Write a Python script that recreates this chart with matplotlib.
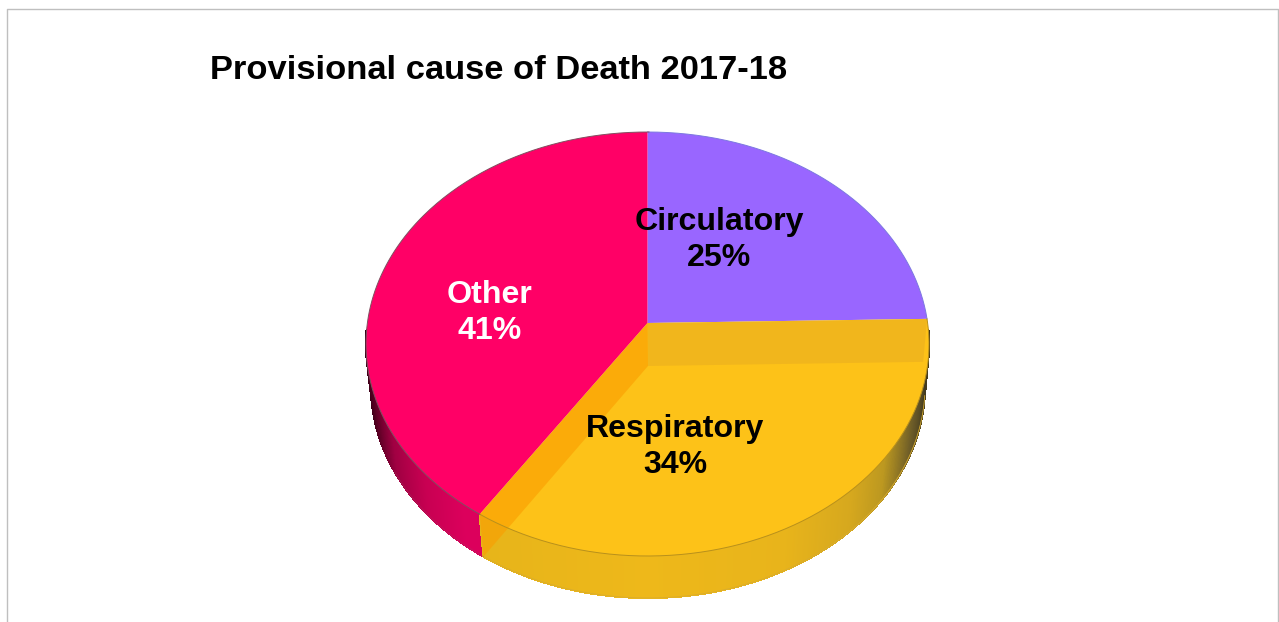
import numpy as np
import matplotlib
matplotlib.use("Agg")
import matplotlib.pyplot as plt
import matplotlib.transforms as mtransforms
from matplotlib.collections import PolyCollection
from matplotlib.patches import Polygon
from matplotlib.path import Path

plt.rcParams["font.family"] = "Liberation Sans"

title = "Provisional cause of Death 2017-18"
categories = ["Circulatory", "Respiratory", "Other"]
values = [24.6, 34.45, 40.6]

color_circ = '#9966FF'
color_resp = '#FDC218'
color_other = '#FF0066'


class Perspective(mtransforms.Transform):
    # maps the unit circle of ax.pie on a tilted disc, in pixel coords
    input_dims = 2
    output_dims = 2

    def __init__(self, cx, cy, rx, ry, apex_y):
        super().__init__()
        self.cx, self.cy, self.rx, self.ry = cx, cy, rx, ry
        self.c = cy - apex_y
        self.k = self.c / ry
        self.d = ry
        self.a = rx * np.sqrt(1 - (self.c / ry) ** 2)

    def transform_non_affine(self, values):
        pts = np.asarray(values, dtype=float)
        u, v = pts[:, 0], pts[:, 1]
        w = 1 + self.k * v
        x = self.cx + self.a * u / w
        y = self.cy - (self.c + self.d * v) / w
        return np.column_stack([x, y])

    def transform_path_non_affine(self, path):
        # flatten the arcs first, control points do not survive the mapping
        pts = [curve(np.linspace(0, 1, 40)) for curve, code in path.iter_bezier()]
        return Path(self.transform_non_affine(np.vstack(pts)))


def on_circle(theta):
    theta = np.radians(theta)
    return np.column_stack([np.cos(theta), np.sin(theta)])


def shade(stops, x):
    xs = [s[0] for s in stops]
    rgb = np.array([matplotlib.colors.to_rgb(s[1]) for s in stops])
    return tuple(np.interp(x, xs, rgb[:, i]) for i in range(3))


fig = plt.figure(figsize=(12.79, 6.22), dpi=100)
ax = fig.add_axes([0, 0, 1, 1])

top = Perspective(647.5, 344, 281.5, 212, 323)
bottom = Perspective(648, 386, 277, 212, 366)

# slice bounds, clockwise from 12 o'clock
cum = np.cumsum(values) / np.sum(values)
theta_circ = 90 - 360 * cum[0]
theta_resp = 90 - 360 * cum[1]

###side wall, only the lower half faces the viewer
wall_resp = [(-1, '#E2B01C'), (-0.6, '#E6B41A'), (0, '#EEB81A'), (0.45, '#E8B41B'),
             (0.68, '#D6A81E'), (0.8, '#BC9820'), (0.92, '#6A5A28'), (1, '#40381E')]
wall_other = [(-1, '#300014'), (-0.95, '#50001F'), (-0.86, '#A00042'), (-0.74, '#C80052'), (-0.6, '#DC005C')]

thetas = np.linspace(-178, -2, 600)
polys = []
cols = []
for t1, t2 in zip(thetas[:-1], thetas[1:]):
    p = on_circle(np.array([t1, t2]))
    a = top.transform_non_affine(p)
    b = bottom.transform_non_affine(p)
    polys.append([a[0], a[1], b[1], b[0]])
    u = np.cos(np.radians((t1 + t2) / 2))
    if (t1 + t2) / 2 < theta_resp:
        cols.append(shade(wall_other, u))
    else:
        cols.append(shade(wall_resp, u))
ax.add_collection(PolyCollection(polys, facecolors=cols, edgecolors=cols, linewidths=0.8,
                                 antialiaseds=False))

###top of the pie
wedges, _ = ax.pie(values, colors=[color_circ, color_resp, color_other], startangle=90,
                   counterclock=False, frame=True, wedgeprops={'linewidth': 0})
for w in wedges:
    w.set_transform(top + ax.transData)

###cut faces seen through the yellow slice
apex_top = top.transform_non_affine(np.array([[0., 0.]]))[0]
apex_bot = bottom.transform_non_affine(np.array([[0., 0.]]))[0]
rim_r = top.transform_non_affine(on_circle(theta_circ))[0]
low_r = bottom.transform_non_affine(on_circle(theta_circ))[0]
rim_l = top.transform_non_affine(on_circle(theta_resp))[0]
low_l = bottom.transform_non_affine(on_circle(theta_resp))[0]
ax.add_patch(Polygon([apex_top, rim_r, low_r, apex_bot], closed=True, facecolor='#E1A423',
                     alpha=0.4, edgecolor='none'))
ax.add_patch(Polygon([apex_top, rim_l, low_l, apex_bot], closed=True, facecolor='#FA9D00',
                     alpha=0.6, edgecolor='none'))

###thin rims
for t1, t2, c in [(theta_circ, 90, '#7C78E0'), (theta_resp, theta_circ, '#B8901C'), (theta_resp - 147, theta_resp, '#805060')]:
    rim = top.transform_non_affine(on_circle(np.linspace(t1, t2, 200)))
    ax.plot(rim[:, 0], rim[:, 1], color=c, lw=0.7)
low = bottom.transform_non_affine(on_circle(np.linspace(theta_resp, -8, 200)))
ax.plot(low[:, 0], low[:, 1], color='#D8AC30', lw=0.6)
low = bottom.transform_non_affine(on_circle(np.linspace(theta_resp - 28, theta_resp, 100)))
ax.plot(low[:, 0], low[:, 1], color='#A04060', lw=0.4, alpha=0.6)

###labels
ax.text(210, 70.5, title, fontsize=24.8, fontweight='bold', ha='left', va='center', color='black')
label_pos = [(719, 240, 'black'), (675, 447, 'black'), (490, 313, 'white')]
for name, val, (x, y, c) in zip(categories, values, label_pos):
    ax.text(x, y, '%s\n%.0f%%' % (name, val), fontsize=23.1, fontweight='bold', ha='center',
            va='center', color=c, linespacing=1.3)

###chart border
ax.plot([7, 7, 1278, 1278], [622, 8.5, 8.5, 622], color='#BFBFBF', lw=1.0)

ax.set_aspect('auto')
ax.set_xlim(0, 1279)
ax.set_ylim(622, 0)
ax.axis('off')

plt.savefig("out.png", dpi=100)
